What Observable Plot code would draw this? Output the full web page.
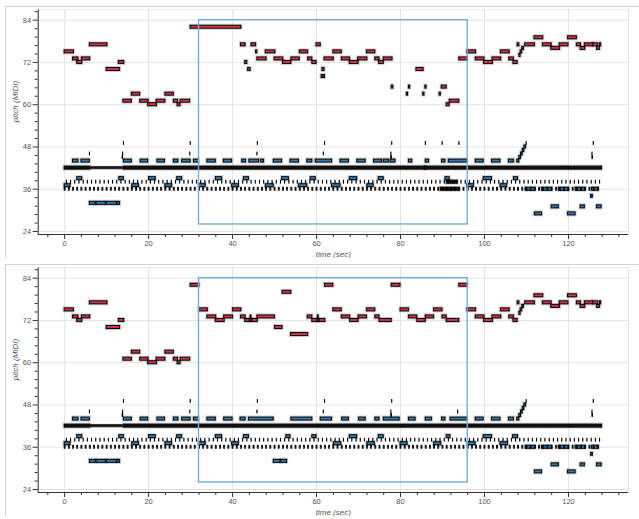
<!DOCTYPE html>
<html><head><meta charset="utf-8">
<script src="https://cdn.jsdelivr.net/npm/d3@7"></script>
<script src="https://cdn.jsdelivr.net/npm/@observablehq/plot@0.6"></script>
<style>
body{margin:0;background:#fff;font-family:"Liberation Sans",Arial,sans-serif;}
.panel{position:relative;width:639px;height:258px;overflow:hidden;}
.panel .border{position:absolute;left:5px;top:6px;width:700px;height:400px;border-top:1px solid #d4d4d4;border-left:1px solid #d4d4d4;}
.panel svg{position:absolute;left:0;top:0;}
</style></head><body>
<div id="top" class="panel"><div class="border"></div></div>
<div id="bottom" class="panel"><div class="border"></div></div>
<script>
// ---- data: [start (s), end (s), MIDI pitch] ----
const melodyTop = [
[0,2.2,75],[2.0,3.3,73],[3.0,4.2,72],[4.1,6.1,73],[6.0,10.2,77],[10.0,13.2,70],[12.9,14.2,72],
[14.0,16.0,61],[16.0,18.0,63],[18.0,20.0,61],[19.9,22.0,60],[21.9,24.0,61],[24.0,26.0,63],
[26.0,27.0,61],[26.9,27.6,60],[27.6,29.9,61],[30.0,42.1,82],
[42.0,43.1,77],[43.0,43.5,72],[43.7,44.3,70],[44.5,45.6,77],[45.6,45.9,75],[45.9,48.1,73],
[47.9,50.2,75],[50.0,52.1,73],[52.0,54.0,72],[54.0,56.0,73],[56.0,58.0,75],[58.0,59.0,73],
[59.0,60.0,72],[60.0,61.0,77],[61.4,61.9,70],[61.2,61.5,68],[61.7,62.0,68],[61.9,64.1,73],
[64.0,66.0,75],[66.0,68.0,73],[67.9,70.0,72],[69.9,72.1,73],[72.0,74.0,75],[74.0,75.0,73],
[74.9,76.0,72],[76.0,78.1,73],[77.9,78.3,65],[81.5,81.8,63],[82.0,82.3,65],[83.8,85.5,70],
[85.4,85.7,63],[85.9,86.2,65],[89.3,89.6,63],[89.8,91.0,65],[91.0,91.7,60],[91.7,94.0,61],
[94.0,96.0,73],[95.9,98.0,75],[97.9,100.0,73],[99.9,102.0,72],[101.9,104.0,73],[103.9,106.0,75],
[105.9,107.0,73],[106.9,107.9,72],[107.9,108.3,77],[108.3,108.6,74],[108.6,109.0,75],
[109.0,109.4,76],[109.7,112.0,77],[111.9,114.0,79],[113.9,116.0,77],[115.9,118.0,76],
[117.9,120.0,77],[119.9,122.0,79],[122.0,123.0,77],[122.9,124.0,76],[123.9,126.0,77],
[125.9,127.1,77],[126.8,127.5,76],[127.5,127.8,77]
];
const melodyBottom = [
[0,2.2,75],[2.0,3.3,73],[3.0,4.2,72],[4.1,6.1,73],[6.0,10.2,77],[10.0,13.2,70],[12.9,14.2,72],
[14.0,16.0,61],[16.0,18.0,63],[18.0,20.0,61],[19.9,22.0,60],[21.9,24.0,61],[24.0,26.0,63],
[26.0,27.0,61],[26.9,27.6,60],[27.6,29.9,61],[30.0,32.1,82],
[32.1,34.1,75],[34.0,36.1,73],[36.0,38.1,72],[38.0,40.1,73],[40.1,42.1,75],[42.0,43.1,73],
[43.0,44.1,72],[44.2,44.6,72],[44.3,44.5,73],[44.7,46.0,72],[45.9,50.1,73],[50.1,51.9,70],
[51.9,54.0,80],[53.9,58.0,68],[57.9,59.0,73],[59.0,60.1,72],[60.2,60.6,72],[60.3,60.5,73],
[60.7,62.1,72],[62.0,64.0,82],[64.0,66.0,75],[66.0,68.0,73],[68.0,70.0,72],[70.0,72.0,73],
[72.0,74.0,75],[74.0,75.0,73],[75.0,77.9,72],[77.9,80.0,82],[80.0,82.0,75],[82.0,84.0,73],
[84.0,86.0,72],[86.0,88.0,73],[88.0,90.0,75],[90.0,91.0,73],[91.0,94.0,72],[94.0,96.0,82],
[95.9,98.0,75],[97.9,100.0,73],[99.9,102.0,72],[101.9,104.0,73],[103.9,106.0,75],
[105.9,107.0,73],[106.9,107.9,72],[107.9,108.3,77],[108.3,108.6,74],[108.6,109.0,75],
[109.0,109.4,76],[109.7,112.0,77],[111.9,114.0,79],[113.9,116.0,77],[115.9,118.0,76],
[117.9,120.0,77],[119.9,122.0,79],[122.0,123.0,77],[122.9,124.0,76],[123.9,126.0,77],
[125.9,127.1,77],[126.8,127.5,76],[127.5,127.8,77]
];
const bassTop = [
[2.0,3.3,44],[4.0,6.0,44],[14.1,16.0,44],[18.1,19.9,44],[22.1,23.9,44],[26.0,27.1,44],[28.0,30.0,44],
[30.8,32.0,44],[34.0,36.0,44],[37.9,39.9,44],[42.3,43.2,44],[44.0,46.3,44],[46.8,47.5,44],
[49.8,51.8,44],[53.8,55.8,44],[57.8,59.0,44],[59.8,63.7,44],[65.7,67.7,44],[69.7,71.7,44],
[73.7,75.6,44],[76.0,77.2,44],[77.6,78.8,44],[82.0,82.8,44],[85.8,86.1,42],[86.0,86.8,44],[89.9,90.7,44],
[91.5,95.9,44],[97.9,99.8,44],[101.8,103.8,44],[105.8,107.0,44],[107.8,108.3,44],
[108.3,108.7,45],[108.7,109.1,46],[109.1,109.5,47],[109.5,109.9,48],
[3.0,4.2,39],[13.0,14.1,39],[20.1,21.7,39],[26.8,28.0,39],[36.0,37.5,39],[42.7,43.9,39],[51.8,53.4,39],
[58.6,59.8,39],[67.9,69.7,39],[74.8,76.0,39],[90.7,91.7,39],[99.8,101.8,39],[107.0,108.0,39],
[0.0,1.4,37],[16.1,17.7,37],[24.0,25.6,37],[32.0,33.6,37],[39.9,41.5,37],[47.9,49.8,37],[55.8,57.8,37],
[63.7,65.7,37],[72.1,73.6,37],[95.9,97.5,37],[103.8,105.4,37],
[6.0,7.4,32],[7.6,9.8,32],[10.0,12.4,32],[12.6,13.2,32],
[109.8,112.1,36],[113.7,116.1,36],[117.7,120.1,36],[121.7,124.0,36],[125.6,127.2,36],
[125.4,125.8,34],[116.0,117.7,31],[122.9,123.9,31],[126.8,127.9,31],[112.0,113.7,29],[119.9,121.7,29]
];
const bassBottom = [
[2.0,3.3,44],[4.0,6.0,44],[14.1,16.0,44],[18.1,19.9,44],[22.1,23.9,44],[26.0,27.1,44],[28.0,30.0,44],
[30.8,32.0,44],[34.0,36.0,44],[38.0,40.0,44],[41.9,43.1,44],[43.9,49.8,44],[54.0,59.0,44],
[61.0,63.7,44],[66.1,67.7,44],[70.1,71.7,44],[74.0,75.0,44],[76.0,79.8,44],[82.0,83.6,44],
[86.0,87.5,44],[89.9,90.7,44],[91.9,95.9,44],[97.9,99.8,44],[101.8,103.8,44],[105.8,107.0,44],
[107.8,108.3,44],[108.3,108.7,45],[108.7,109.1,46],[109.1,109.5,47],[109.5,109.9,48],
[3.0,4.2,39],[13.0,14.1,39],[20.1,21.7,39],[26.8,28.0,39],[36.0,37.5,39],[42.7,43.9,39],[52.8,53.8,39],
[59.0,60.0,39],[67.9,69.7,39],[74.8,76.0,39],[91.0,91.9,39],[99.8,101.8,39],[106.8,108.0,39],
[0.0,1.4,37],[16.1,17.7,37],[24.0,25.6,37],[32.0,33.6,37],[39.9,41.5,37],[64.1,65.9,37],[72.1,73.9,37],
[80.0,81.7,37],[88.0,89.7,37],[96.0,97.9,37],[103.8,105.6,37],
[6.0,7.4,32],[7.6,9.8,32],[10.0,12.4,32],[12.6,13.2,32],[49.8,51.4,32],[51.6,53.0,32],
[109.8,112.1,36],[113.7,116.1,36],[117.7,120.1,36],[121.7,124.0,36],[125.6,127.2,36],
[125.4,125.8,34],[116.0,117.7,31],[122.9,123.9,31],[126.8,127.9,31],[112.0,113.7,29],[119.9,121.7,29]
];
// drum hits: onset times per pitch row
const kick36 = [0,1,2,3,4,5,6,7,8,9,10,11,12,13,14,15,16,17,18,19,20,21,22,23,24,25,26,27,28,29,30,31,32,33,34,35,36,37,38,39,40,41,42,43,44,45,46,47,48,49,50,51,52,53,54,55,56,57,58,59,60,61,62,63,64,65,66,67,68,69,70,71,72,73,74,75,76,77,78,79,80,81,82,83,84,85,86,87,88,89,90,91,92,93,94,95,96,97,98,99,100,101,102,103,104,105,106,107,108,109,110,111,112,113,114,115,116,117,118,119,120,121,122,123,124,125,126,127];
const snare38 = [0.5,1.5,2.5,3.5,4.5,5.5,6.5,7.5,8.5,9.5,10.5,11.5,12.5,13.5,14.5,15.5,16.5,17.5,18.5,19.5,20.5,21.5,22.5,23.5,24.5,25.5,26.5,27.5,28.5,29.5,30.5,31.5,32.5,33.5,34.5,35.5,36.5,37.5,38.5,39.5,40.5,41.5,42.5,43.5,44.5,45.5,46.5,47.5,48.5,49.5,50.5,51.5,52.5,53.5,54.5,55.5,56.5,57.5,58.5,59.5,60.5,61.5,62.5,63.5,64.5,65.5,66.5,67.5,68.5,69.5,70.5,71.5,72.5,73.5,74.5,75.5,76.5,77.5,78.5,79.5,80.5,81.5,82.5,83.5,84.5,85.5,86.5,87.5,88.5,89.5,90.5,91.5,92.5,93.5,94.5,95.5,96.5,97.5,98.5,99.5,100.5,101.5,102.5,103.5,104.5,105.5,106.5,107.5,108.5,109.5,110.5,111.5,112.5,113.5,114.5,115.5,116.5,117.5,118.5,119.5,120.5,121.5,122.5,123.5,124.5,125.5,126.5,127.5];
const crash49Top = [14.1,30.0,46.0,62.0,78.0,86.0,90.0,94.0,110.0,126.0];
const crash49Bottom = [14.1,30.0,46.0,62.0,78.0,110.0,126.0];
const openHat46Top = [6.0,13.9,29.9,45.9,61.7,77.8,125.7];
const openHat46Bottom = [6.0,13.9,29.9,45.9,61.7,77.8,93.7,125.7];
const tom45 = [13.8,77.8,125.7];
const hatRuns42 = [[0,6.1,42],[14.1,128.0,42]];
const hatRunsSoft42 = [[6.1,13.9,42]];
const drumRunsTop = [[89.6,94.0,36],[91.0,93.6,38]];
const drumRunsBottom = [];
// axes and highlight
const xMajor = [0,20,40,60,80,100,120];
const xMinor = [-4,4,8,12,16,24,28,32,36,44,48,52,56,64,68,72,76,84,88,92,96,104,108,112,116,124,128,132];
const yMajor = [24,36,48,60,72,84];
const yMinor = [26.4,28.8,31.2,33.6,38.4,40.8,43.2,45.6,50.4,52.8,55.2,57.6,62.4,64.8,67.2,69.6,74.4,76.8,79.2,81.6,86.4];
const region = {t0:32, t1:96, p0:26, p1:84};

const COLORS = {mel:"#d8324a", bass:"#2f7db6", drum:"#111"};
function build(mel, bass, crash, ohat, runs){
  const notes = [], hits = [], soft = [];
  for (const [s,e,p] of mel) notes.push({s,e,p,c:"mel"});
  for (const [s,e,p] of bass) notes.push({s,e,p,c:"bass"});
  for (const [s,e,p] of hatRuns42) notes.push({s,e,p,c:"drum"});
  for (const [s,e,p] of runs) notes.push({s,e,p,c:"drum"});
  for (const [s,e,p] of hatRunsSoft42) soft.push({s,e,p});
  for (const t of kick36) hits.push({s:t,e:t+0.22,p:36});
  for (const t of snare38) hits.push({s:t,e:t+0.05,p:38});
  for (const t of crash) hits.push({s:t,e:t+0.05,p:49});
  for (const t of ohat) hits.push({s:t,e:t+0.05,p:46});
  for (const t of tom45) hits.push({s:t,e:t+0.15,p:45});
  return {notes, hits, soft};
}
const X0=-6.3, X1=134.3, Y0=23.15, Y1=86.95;
function panel({notes, hits, soft}){
  const r = d=>d.p-0.42, R = d=>d.p+0.42;
  return Plot.plot({
    width:639, height:258, marginLeft:37.7, marginRight:11, marginTop:9.3, marginBottom:24,
    x:{domain:[X0,X1]}, y:{domain:[Y0,Y1]},
    color:{type:"identity"},
    style:{fontFamily:"Liberation Sans, Arial, sans-serif", fontSize:"7.5px", color:"#555", background:"transparent"},
    marks:[
      Plot.frame({stroke:"#e6e6e6"}),
      Plot.gridX(xMajor,{stroke:"#e4e4e4", strokeOpacity:1}),
      Plot.gridY(yMajor,{stroke:"#e4e4e4", strokeOpacity:1}),
      Plot.rect(notes,{x1:"s",x2:"e",y1:r,y2:R, fill:"none", stroke:"#9a9a9a", strokeWidth:3, strokeOpacity:0.5}),
      Plot.rect(notes,{x1:"s",x2:"e",y1:r,y2:R, fill:d=>COLORS[d.c], stroke:"#000", strokeWidth:1}),
      Plot.rect(soft,{x1:"s",x2:"e",y1:d=>d.p-0.36,y2:d=>d.p+0.36, fill:"#151515", stroke:"#2a2a2a", strokeWidth:0.8}),
      Plot.rect(hits,{x1:"s",x2:"e",y1:r,y2:R, fill:"#000", stroke:"#000", strokeWidth:0.9}),
      Plot.rect([region],{x1:"t0",x2:"t1",y1:"p0",y2:"p1", fill:"none", stroke:"#79acd6", strokeWidth:1.4}),
      Plot.ruleY([Y0],{stroke:"#333"}),
      Plot.ruleX([X0],{stroke:"#333"}),
      Plot.axisX(xMajor,{tickSize:5, tickPadding:1.5, stroke:"#333", label:null, fill:"#555"}),
      Plot.axisX(xMinor,{tickSize:3, stroke:"#333", text:null, label:null}),
      Plot.axisY(yMajor,{tickSize:5, tickPadding:2, stroke:"#333", label:null, fill:"#555"}),
      Plot.axisY(yMinor,{tickSize:3, stroke:"#333", text:null, label:null}),
      Plot.text(["time (sec)"],{frameAnchor:"bottom", dy:22, fontStyle:"italic", fontSize:8, fill:"#555"}),
      Plot.text(["pitch (MIDI)"],{frameAnchor:"left", dx:-23, rotate:-90, fontStyle:"italic", fontSize:8, fill:"#555"})
    ]
  });
}
document.getElementById("top").appendChild(panel(build(melodyTop,bassTop,crash49Top,openHat46Top,drumRunsTop)));
document.getElementById("bottom").appendChild(panel(build(melodyBottom,bassBottom,crash49Bottom,openHat46Bottom,drumRunsBottom)));
</script>
</body></html>
